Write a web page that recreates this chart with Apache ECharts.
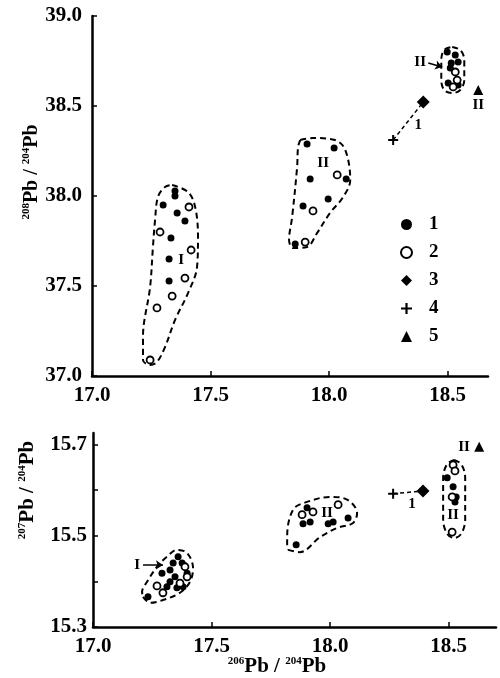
<!DOCTYPE html>
<html>
<head>
<meta charset="utf-8">
<script src="https://cdn.jsdelivr.net/npm/echarts@6/dist/echarts.min.js"></script>
<style>
html,body{margin:0;padding:0;background:#fff}
#main{width:500px;height:678px}
</style>
</head>
<body>
<div id="main"></div>
<script>
// axis ticks
let xTicks = [17.0, 17.5, 18.0, 18.5];
let topYTicks = [37.0, 37.5, 38.0, 38.5, 39.0];
let botYTicks = [15.3, 15.4, 15.5, 15.6, 15.7];
let botYLabels = [15.3, 15.5, 15.7];

// upper panel: 206Pb/204Pb vs 208Pb/204Pb
let topFilled = [
    [17.350, 38.028], [17.350, 38.000], [17.300, 37.950], [17.359, 37.906], [17.392, 37.861],
    [17.333, 37.767], [17.325, 37.650], [17.325, 37.528],
    [17.907, 38.289], [18.021, 38.267], [18.072, 38.094], [17.920, 38.094], [17.996, 37.983],
    [17.890, 37.944], [17.857, 37.733],
    [18.498, 38.800], [18.532, 38.783], [18.515, 38.739], [18.544, 38.744], [18.511, 38.711],
    [18.502, 38.628], [18.544, 38.617]
];
let topOpen = [
    [17.409, 37.939], [17.287, 37.800], [17.418, 37.700], [17.392, 37.544], [17.338, 37.444],
    [17.274, 37.378], [17.245, 37.089],
    [18.034, 38.117], [17.932, 37.917], [17.899, 37.744],
    [18.532, 38.689], [18.540, 38.644], [18.523, 38.606]
];
let topDiamond = [[18.397, 38.522]];
let topPlus = [[18.270, 38.311]];
let topTriangle = [[18.629, 38.589]];

let topOutlineI = [
    [17.338, 38.061], [17.405, 38.022], [17.435, 37.939], [17.447, 37.772], [17.443, 37.606],
    [17.405, 37.461], [17.350, 37.311], [17.308, 37.161], [17.274, 37.078], [17.245, 37.061],
    [17.215, 37.089], [17.215, 37.217], [17.245, 37.494], [17.257, 37.717], [17.266, 37.867],
    [17.278, 37.994], [17.308, 38.050]
];
let topOutlineII = [
    [17.878, 38.311], [17.932, 38.322], [18.025, 38.311], [18.068, 38.256], [18.089, 38.089],
    [18.059, 37.994], [18.004, 37.906], [17.949, 37.794], [17.907, 37.717], [17.848, 37.711],
    [17.831, 37.756], [17.844, 37.883], [17.865, 38.161], [17.869, 38.272]
];
let topOutlineIII = [
    [18.519, 38.828], [18.553, 38.811], [18.570, 38.756], [18.570, 38.644], [18.553, 38.589],
    [18.519, 38.572], [18.485, 38.589], [18.473, 38.644], [18.473, 38.756], [18.485, 38.811]
];
let topNotes = [
    [17.376, 37.644, 'I'], [17.975, 38.183, 'II'], [18.384, 38.744, 'II'],
    [18.376, 38.394, '1'], [18.629, 38.506, 'II']
];
let topArrow = [[18.418, 38.739], [18.477, 38.717]];
let topDash = [[18.270, 38.311], [18.397, 38.522]];

// lower panel: 206Pb/204Pb vs 207Pb/204Pb
let botFilled = [
    [17.232, 15.366], [17.291, 15.418], [17.325, 15.425], [17.338, 15.440], [17.359, 15.454],
    [17.376, 15.440], [17.397, 15.418], [17.346, 15.410], [17.325, 15.399], [17.312, 15.388],
    [17.354, 15.386], [17.380, 15.388],
    [17.903, 15.561], [17.886, 15.526], [17.916, 15.530], [17.992, 15.526], [18.013, 15.530],
    [18.076, 15.539], [17.857, 15.480],
    [18.494, 15.627], [18.519, 15.607], [18.532, 15.585], [18.527, 15.574]
];
let botOpen = [
    [17.270, 15.390], [17.295, 15.375], [17.388, 15.432], [17.397, 15.410], [17.367, 15.396],
    [17.882, 15.546], [17.928, 15.552], [18.034, 15.568],
    [18.519, 15.655], [18.527, 15.642], [18.515, 15.585], [18.515, 15.508]
];
let botDiamond = [[18.392, 15.598]];
let botPlus = [[18.266, 15.592]];
let botTriangle = [[18.629, 15.695]];

let botOutlineI = [
    [17.211, 15.366], [17.241, 15.353], [17.295, 15.359], [17.367, 15.375], [17.409, 15.399],
    [17.422, 15.429], [17.397, 15.462], [17.354, 15.469], [17.312, 15.454], [17.270, 15.432],
    [17.228, 15.399], [17.207, 15.377]
];
let botOutlineII = [
    [17.823, 15.469], [17.873, 15.464], [17.958, 15.497], [18.030, 15.517], [18.097, 15.528],
    [18.114, 15.550], [18.072, 15.579], [18.000, 15.585], [17.903, 15.574], [17.844, 15.557],
    [17.819, 15.497], [17.819, 15.475]
];
let botOutlineIII = [
    [18.523, 15.666], [18.553, 15.657], [18.570, 15.627], [18.570, 15.535], [18.553, 15.504],
    [18.523, 15.495], [18.494, 15.504], [18.477, 15.535], [18.477, 15.627], [18.494, 15.657]
];
let botNotes = [
    [17.186, 15.436, 'I'], [17.987, 15.550, 'II'], [18.519, 15.546, 'II'],
    [18.346, 15.570, '1'], [18.565, 15.695, 'II']
];
let botArrow = [[17.211, 15.436], [17.295, 15.436]];
let botDash = [[18.266, 15.592], [18.392, 15.598]];

let serif = 'Liberation Serif';
let plusPath = 'path://M4,0h2v4h4v2h-4v4h-2v-4h-4v-2h4z';

function axisX(idx) {
    return {
        type: 'value', gridIndex: idx, min: 17.0, max: idx === 0 ? 18.67 : 18.7,
        splitLine: {show: false},
        axisLine: {lineStyle: {color: '#000', width: 2.5}},
        axisTick: {inside: true, length: 5, lineStyle: {color: '#000', width: 1.5}, customValues: xTicks},
        axisLabel: {
            color: '#000', fontFamily: serif, fontWeight: 'bold', fontSize: 21, margin: 9,
            customValues: xTicks, formatter: v => v.toFixed(1)
        }
    };
}

function scatter(name, data, idx, symbol, size, filled) {
    return {
        name: name, type: 'scatter', xAxisIndex: idx, yAxisIndex: idx,
        symbol: symbol, symbolSize: size, data: data, silent: true,
        itemStyle: filled ? {color: '#000', opacity: 1}
            : {color: '#fff', borderColor: '#000', borderWidth: 1.8, opacity: 1}
    };
}

function outline(data, idx) {
    return {
        type: 'line', xAxisIndex: idx, yAxisIndex: idx, symbol: 'none', smooth: 0.35,
        data: data.concat([data[0]]), silent: true,
        lineStyle: {color: '#000', width: 2, type: [6, 4]}
    };
}

function notes(data, idx, arrow, dash) {
    return {
        type: 'scatter', xAxisIndex: idx, yAxisIndex: idx, symbolSize: 0, data: data, silent: true,
        itemStyle: {color: '#000', opacity: 1},
        label: {
            show: true, position: 'inside', color: '#000', opacity: 1, fontFamily: serif, fontWeight: 'bold',
            fontSize: 15, formatter: p => p.value[2]
        },
        markLine: {
            silent: true, animation: false, label: {show: false},
            data: [
                [{coord: arrow[0], symbol: 'none'}, {coord: arrow[1], symbol: 'arrow', symbolSize: 7}],
                [{coord: dash[0], symbol: 'none', lineStyle: {type: [4, 3]}}, {coord: dash[1], symbol: 'none'}]
            ],
            lineStyle: {color: '#000', width: 1.5, type: 'solid', opacity: 1}
        }
    };
}

let myChart = echarts.init(document.getElementById('main'));

let option = {
    animation: false,
    backgroundColor: '#fff',
    grid: [
        {left: 92, top: 16, width: 396, height: 360},
        {left: 93, top: 433, width: 403, height: 194}
    ],
    xAxis: [axisX(0), axisX(1)],
    yAxis: [
        {
            type: 'value', gridIndex: 0, min: 37.0, max: 39.0, interval: 0.5,
            splitLine: {show: false},
            axisLine: {lineStyle: {color: '#000', width: 2.5}},
            axisTick: {inside: true, length: 5, lineStyle: {color: '#000', width: 1.5}},
            axisLabel: {color: '#000', fontFamily: serif, fontWeight: 'bold', fontSize: 21, margin: 10,
                formatter: v => v.toFixed(1)}
        },
        {
            type: 'value', gridIndex: 1, min: 15.3, max: 15.725,
            splitLine: {show: false},
            axisLine: {lineStyle: {color: '#000', width: 2.5}},
            axisTick: {inside: true, length: 5, lineStyle: {color: '#000', width: 1.5}, customValues: botYTicks},
            axisLabel: {color: '#000', fontFamily: serif, fontWeight: 'bold', fontSize: 21, margin: 6,
                customValues: botYLabels, formatter: v => v.toFixed(1)}
        }
    ],
    legend: {
        data: ['1', '2', '3', '4', '5'], orient: 'vertical', left: 395, top: 210,
        itemWidth: 11, itemHeight: 11, itemGap: 9, selectedMode: false,
        textStyle: {color: '#000', fontFamily: serif, fontWeight: 'bold', fontSize: 19, lineHeight: 18,
            padding: [0, 0, 0, 12]}
    },
    graphic: [
        {type: 'text', x: 32, y: 172, rotation: Math.PI / 2,
            style: {text: '{s|208}{b|Pb / }{s|204}{b|Pb}', align: 'center', verticalAlign: 'middle',
                rich: {s: {fontFamily: serif, fontWeight: 'bold', fontSize: 11, verticalAlign: 'top', lineHeight: 22},
                    b: {fontFamily: serif, fontWeight: 'bold', fontSize: 20, lineHeight: 22}}}},
        {type: 'text', x: 28, y: 490, rotation: Math.PI / 2,
            style: {text: '{s|207}{b|Pb / }{s|204}{b|Pb}', align: 'center', verticalAlign: 'middle',
                rich: {s: {fontFamily: serif, fontWeight: 'bold', fontSize: 11, verticalAlign: 'top', lineHeight: 22},
                    b: {fontFamily: serif, fontWeight: 'bold', fontSize: 21, lineHeight: 22}}}},
        {type: 'text', x: 277, y: 667,
            style: {text: '{s|206}{b|Pb / }{s|204}{b|Pb}', align: 'center', verticalAlign: 'middle',
                rich: {s: {fontFamily: serif, fontWeight: 'bold', fontSize: 11, verticalAlign: 'top', lineHeight: 22},
                    b: {fontFamily: serif, fontWeight: 'bold', fontSize: 21, lineHeight: 22}}}}
    ],
    series: [
        outline(topOutlineI, 0), outline(topOutlineII, 0), outline(topOutlineIII, 0),
        outline(botOutlineI, 1), outline(botOutlineII, 1), outline(botOutlineIII, 1),
        scatter('1', topFilled, 0, 'circle', 7, true),
        scatter('2', topOpen, 0, 'circle', 7, false),
        scatter('3', topDiamond, 0, 'diamond', 13, true),
        scatter('4', topPlus, 0, plusPath, 10, true),
        scatter('5', topTriangle, 0, 'triangle', 10, true),
        scatter('1', botFilled, 1, 'circle', 7, true),
        scatter('2', botOpen, 1, 'circle', 7, false),
        scatter('3', botDiamond, 1, 'diamond', 13, true),
        scatter('4', botPlus, 1, plusPath, 10, true),
        scatter('5', botTriangle, 1, 'triangle', 10, true),
        notes(topNotes, 0, topArrow, topDash),
        notes(botNotes, 1, botArrow, botDash)
    ]
};

myChart.setOption(option);
</script>
</body>
</html>
